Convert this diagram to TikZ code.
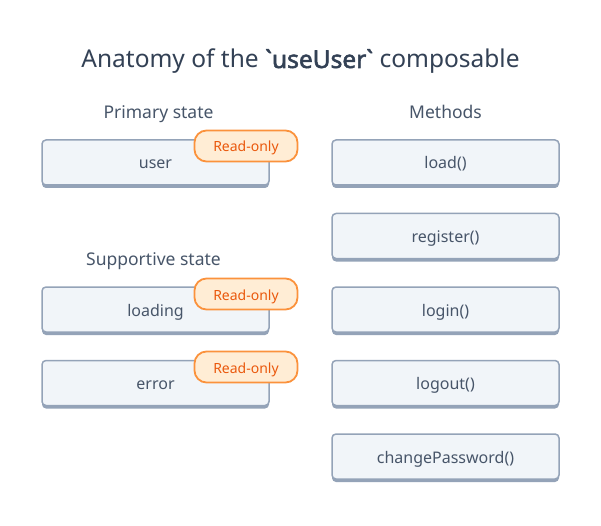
\documentclass[tikz,border=0pt]{standalone}
\usepackage{fontspec}
\setmainfont{Noto Sans}
\newfontfamily\boldfam{Noto Sans}[FakeBold=2.2]
\usetikzlibrary{shadows}
\definecolor{boxfill}{HTML}{F1F5F9}
\definecolor{boxborder}{HTML}{94A3B8}
\definecolor{boxtext}{HTML}{475569}
\definecolor{titletext}{HTML}{334155}
\definecolor{badgefill}{HTML}{FFEDD5}
\definecolor{badgeborder}{HTML}{FB923C}
\definecolor{badgetext}{HTML}{EA580C}
\begin{document}
\begin{tikzpicture}[x=1pt,y=-1pt,
  box/.style={draw=boxborder, line width=1.5pt, fill=boxfill, rounded corners=4pt,
    minimum width=227pt, minimum height=45pt, inner sep=0pt, text=boxtext,
    text height=15pt, text depth=2pt,
    font=\fontsize{16}{19}\selectfont,
    drop shadow={shadow xshift=0pt, shadow yshift=-3pt, fill=boxborder, opacity=1}},
  badge/.style={draw=badgeborder, line width=1.8pt, fill=badgefill, rounded corners=12pt,
    minimum width=103pt, minimum height=31pt, inner sep=0pt, text=badgetext,
    text height=14pt, text depth=2pt,
    font=\fontsize{14}{16}\selectfont},
  heading/.style={text=boxtext, font=\fontsize{17.5}{20}\selectfont, inner sep=0pt, anchor=base},
  title/.style={text=titletext, font=\fontsize{24.5}{28}\selectfont, inner sep=0pt, anchor=base}]
\fill[white] (0,0) rectangle (601,526);
\useasboundingbox (0,0) rectangle (601,526);

\node[title] (title) at (300.5,68) {Anatomy of the {\boldfam\textasciigrave useUser\textasciigrave} composable};

\node[heading] (hprimary) at (158.5,118.5) {Primary state};
\node[heading] (hmethods) at (445.5,118.5) {Methods};
\node[heading] (hsupport) at (153.5,265.5) {Supportive state};

\node[box] (user) at (155.5,162.5) {user};
\node[box] (loading) at (155.5,309.5) {loading};
\node[box] (error) at (155.5,383) {error};

\node[box] (load) at (445.5,162.5) {load()};
\node[box] (register) at (445.5,236) {register()};
\node[box] (login) at (445.5,309.5) {login()};
\node[box] (logout) at (445.5,383) {logout()};
\node[box] (changepw) at (445.5,456.5) {changePassword()};

\node[badge] (b1) at (246,146) {Read-only};
\node[badge] (b2) at (246,294) {Read-only};
\node[badge] (b3) at (246,367) {Read-only};
\end{tikzpicture}
\end{document}
